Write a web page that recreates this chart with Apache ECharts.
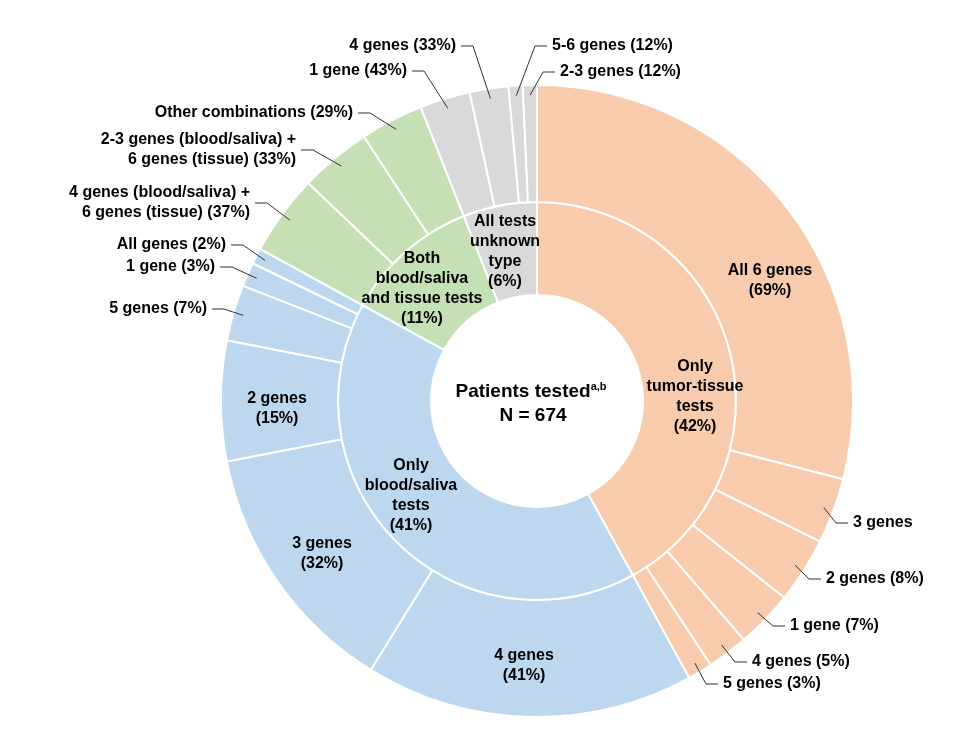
<!DOCTYPE html>
<html>
<head>
<meta charset="utf-8">
<script src="https://cdn.jsdelivr.net/npm/echarts@6/dist/echarts.min.js"></script>
<style>
html, body { margin: 0; padding: 0; background: #fff; }
#chart { width: 974px; height: 745px; }
</style>
</head>
<body>
<div id="chart"></div>
<script>
// inner ring: test type groups (% of patients)
var groupNames = ['Only\ntumor-tissue\ntests\n(42%)', 'Only\nblood/saliva\ntests\n(41%)', 'Both\nblood/saliva\nand tissue tests\n(11%)', 'All tests\nunknown\ntype\n(6%)'];
var groupShares = [42, 41, 11, 6];
var groupColors = ['#F8CBAD', '#BDD7EE', '#C5E0B4', '#D9D9D9'];

// outer ring: genes tested within each group (% of group)
var tissueLabels = ['All 6 genes\n(69%)', '3 genes', '2 genes (8%)', '1 gene (7%)', '4 genes (5%)', '5 genes (3%)'];
var tissuePct = [69, 8, 8, 7, 5, 3];
var bloodLabels = ['4 genes\n(41%)', '3 genes\n(32%)', '2 genes\n(15%)', '5 genes (7%)', '1 gene (3%)', 'All genes (2%)'];
var bloodPct = [41, 32, 15, 7, 3, 2];
var bothLabels = ['4 genes (blood/saliva) +\n6 genes (tissue) (37%)', '2-3 genes (blood/saliva) +\n6 genes (tissue) (33%)', 'Other combinations (29%)'];
var bothPct = [37, 33, 29];
var unknownLabels = ['1 gene (43%)', '4 genes (33%)', '5-6 genes (12%)', '2-3 genes (12%)'];
var unknownPct = [43, 33, 12, 12];

// label placement (x, y, align)
var innerLabelPos = [[695, 397], [411, 496], [422, 289], [505, 252]];
var outerLabelPos = [
  [770, 281, 'center'], [853, 523, 'left'], [826, 579, 'left'], [790, 626, 'left'], [752, 662, 'left'], [723, 684, 'left'],
  [524, 666, 'center'], [322, 554, 'center'], [277, 409, 'center'], [207, 309, 'right'], [215, 267, 'right'], [226, 245, 'right'],
  [250, 203, 'right'], [296, 150, 'right'], [353, 113, 'right'],
  [407, 71, 'right'], [456, 46, 'right'], [552, 46, 'left'], [560, 72, 'left']
];

var cx = 537, cy = 401;
var holeR = 106, midR = 199, outerR = 316;
var fontFam = "'Liberation Sans', Arial, sans-serif";

var childLabels = [tissueLabels, bloodLabels, bothLabels, unknownLabels];
var childPct = [tissuePct, bloodPct, bothPct, unknownPct];

var innerData = [];
var outerData = [];
var outerLabelData = [];
var outerMid = [];
var acc = 0;
groupShares.forEach(function (share, g) {
  innerData.push({ name: groupNames[g], value: share, itemStyle: { color: groupColors[g] } });
  var tot = childPct[g].reduce(function (a, b) { return a + b; }, 0);
  childPct[g].forEach(function (p, i) {
    var v = share * p / tot;
    var k = outerData.length;
    var inside = outerLabelPos[k][2] === 'center';
    outerData.push({ name: childLabels[g][i], value: v, itemStyle: { color: groupColors[g] } });
    outerLabelData.push({
      name: childLabels[g][i],
      value: v,
      label: { position: inside ? 'inside' : 'outside' },
      labelLine: { show: !inside }
    });
    outerMid.push((acc + v / 2) / 100 * Math.PI * 2);
    acc += v;
  });
});

var labelText = {
  color: '#000',
  fontFamily: fontFam,
  fontWeight: 'bold',
  fontSize: 16,
  lineHeight: 20,
  formatter: '{b}'
};

var chart = echarts.init(document.getElementById('chart'));
chart.setOption({
  backgroundColor: '#fff',
  animation: false,
  graphic: [
    {
      type: 'text', x: 531, y: 392, z: 10,
      style: {
        text: '{t|Patients tested}{s|a,b}',
        textAlign: 'center', textVerticalAlign: 'middle',
        rich: {
          t: { fontFamily: fontFam, fontWeight: 'bold', fontSize: 19, fill: '#000' },
          s: { fontFamily: fontFam, fontWeight: 'bold', fontSize: 11, fill: '#000', verticalAlign: 'top', padding: [0, 0, 10, 0] }
        }
      }
    },
    {
      type: 'text', x: 533, y: 416, z: 10,
      style: {
        text: 'N = 674', fontFamily: fontFam, fontWeight: 'bold', fontSize: 19, fill: '#000',
        textAlign: 'center', textVerticalAlign: 'middle'
      }
    }
  ],
  series: [
    {
      type: 'pie',
      z: 2,
      center: [cx, cy],
      radius: [holeR, midR],
      startAngle: 90,
      clockwise: true,
      avoidLabelOverlap: false,
      silent: true,
      itemStyle: { borderColor: '#fff', borderWidth: 2 },
      label: Object.assign({ position: 'inside' }, labelText),
      labelLine: { show: false },
      labelLayout: function (params) {
        var p = innerLabelPos[params.dataIndex];
        return { x: p[0], y: p[1], align: 'center', verticalAlign: 'middle' };
      },
      data: innerData
    },
    {
      // outer ring sectors
      type: 'pie',
      z: 2,
      center: [cx, cy],
      radius: [midR, outerR],
      startAngle: 90,
      clockwise: true,
      silent: true,
      itemStyle: { borderColor: '#fff', borderWidth: 2 },
      label: { show: false },
      labelLine: { show: false },
      data: outerData
    },
    {
      // outer ring labels + leader lines, drawn above the sectors
      type: 'pie',
      z: 5,
      center: [cx, cy],
      radius: [midR, outerR],
      startAngle: 90,
      clockwise: true,
      avoidLabelOverlap: false,
      silent: true,
      itemStyle: { color: 'transparent', borderWidth: 0 },
      label: labelText,
      labelLine: { show: true, length: 10, length2: 10, lineStyle: { color: '#333', width: 1 } },
      labelLayout: function (params) {
        var i = params.dataIndex;
        var p = outerLabelPos[i];
        var res = { x: p[0], y: p[1], align: p[2], verticalAlign: 'middle' };
        if (p[2] !== 'center') {
          var a = outerMid[i];
          var r = outerR - 10;
          var sx = cx + r * Math.sin(a), sy = cy - r * Math.cos(a);
          var ex = p[2] === 'left' ? p[0] - 5 : p[0] + 5;
          var bx = p[2] === 'left' ? ex - 12 : ex + 12;
          res.labelLinePoints = [[sx, sy], [bx, p[1]], [ex, p[1]]];
        }
        return res;
      },
      data: outerLabelData
    }
  ]
});
</script>
</body>
</html>
